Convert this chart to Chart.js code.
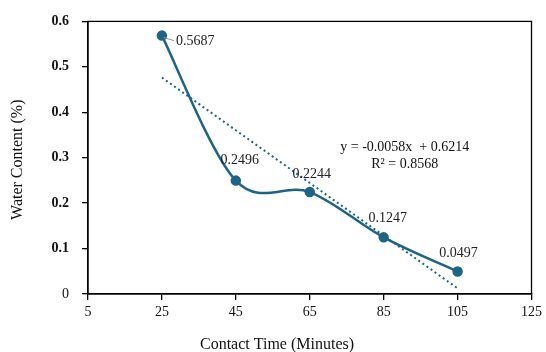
<!DOCTYPE html>
<html><head><meta charset="utf-8">
<script src="https://cdn.jsdelivr.net/npm/chart.js@4"></script>
<style>html,body{margin:0;padding:0;background:#fff}#wrap{width:546px;height:352px}</style>
</head><body><div id="wrap"><canvas id="c" width="546" height="352"></canvas></div>
<script>
const contactTime = [25, 45, 65, 85, 105];
const waterContent = [0.5687, 0.2496, 0.2244, 0.1247, 0.0497];
const trendTime = [25, 105];
const trendValues = [0.4764, 0.0124];
const xTicks = [5, 25, 45, 65, 85, 105, 125];
const yTicks = [0, 0.1, 0.2, 0.3, 0.4, 0.5, 0.6];
const yTickLabels = ['0', '0.1', '0.2', '0.3', '0.4', '0.5', '0.6'];
const pointLabels = ['0.5687', '0.2496', '0.2244', '0.1247', '0.0497'];
const equationLines = ['y = -0.0058x  + 0.6214', 'R\u00B2 = 0.8568'];
const xTitle = 'Contact Time (Minutes)';
const yTitle = 'Water Content (%)';

const LINE = '#1F6487';
const FONT = "'Liberation Serif', 'Times New Roman', serif";
// label offsets relative to the point (dx, dy, align)
const labelOffsets = [[14, 6, 'left'], [4, -20, 'center'], [2, -18, 'center'], [4, -19, 'center'], [1, -18, 'center']];

// Excel-like smoothing: Catmull-Rom style control points (1/6 of neighbour span)
const smooth = {
  id: 'smooth',
  beforeDatasetDraw(chart, args) {
    if (args.index !== 0) return;
    const meta = chart.getDatasetMeta(0);
    const line = meta.dataset;
    line.updateControlPoints(chart.chartArea, 'x');
    const pts = meta.data, n = pts.length;
    for (let i = 0; i < n; i++) {
      const p = pts[i], prev = pts[Math.max(i - 1, 0)], next = pts[Math.min(i + 1, n - 1)];
      const dx = (next.x - prev.x) / 6, dy = (next.y - prev.y) / 6;
      p.cp1x = p.x - dx; p.cp1y = p.y - dy;
      p.cp2x = p.x + dx; p.cp2y = p.y + dy;
    }
    line._path = undefined;
  }
};

const deco = {
  id: 'deco',
  afterDatasetsDraw(chart) {
    const ctx = chart.ctx, a = chart.chartArea;
    ctx.save();
    ctx.strokeStyle = '#000';
    ctx.lineWidth = 1.3;
    ctx.strokeRect(a.left, a.top, a.right - a.left, a.bottom - a.top);
    const meta = chart.getDatasetMeta(0);
    ctx.font = '14px ' + FONT;
    ctx.fillStyle = '#222';
    ctx.textBaseline = 'middle';
    meta.data.forEach((p, i) => {
      const o = labelOffsets[i];
      ctx.textAlign = o[2];
      ctx.fillText(pointLabels[i], p.x + o[0], p.y + o[1]);
    });
    // leader line for first label
    const p0 = meta.data[0];
    ctx.strokeStyle = '#999';
    ctx.lineWidth = 1;
    ctx.beginPath();
    ctx.moveTo(p0.x + 2, p0.y + 2);
    ctx.lineTo(p0.x + 12, p0.y + 5);
    ctx.stroke();
    // equation
    const xs = chart.scales.x, ys = chart.scales.y;
    const ex = xs.getPixelForValue(90.7), ey = ys.getPixelForValue(0.322);
    ctx.fillStyle = '#111';
    ctx.textAlign = 'center';
    ctx.fillText(equationLines[0], ex, ey);
    ctx.fillText(equationLines[1], ex, ey + 17);
    ctx.restore();
  },
  afterDraw(chart) {
    const ctx = chart.ctx, a = chart.chartArea;
    ctx.save();
    ctx.fillStyle = '#111';
    ctx.font = '16px ' + FONT;
    ctx.textAlign = 'center';
    ctx.textBaseline = 'middle';
    ctx.fillText(xTitle, 277, 345);
    ctx.translate(18, (a.top + a.bottom) / 2 + 2);
    ctx.rotate(-Math.PI / 2);
    ctx.fillText(yTitle, 0, 0);
    ctx.restore();
  }
};

new Chart(document.getElementById('c'), {
  type: 'line',
  data: {
    datasets: [
      {
        data: contactTime.map((x, i) => ({ x, y: waterContent[i] })),
        borderColor: LINE,
        backgroundColor: LINE,
        borderWidth: 2.5,
        pointRadius: 4,
        pointHoverRadius: 4,
        tension: 0.4,
        fill: false,
        order: 1
      },
      {
        data: trendTime.map((x, i) => ({ x, y: trendValues[i] })),
        borderColor: LINE,
        borderWidth: 2,
        borderDash: [2, 3],
        pointRadius: 0,
        tension: 0,
        fill: false,
        order: 2
      }
    ]
  },
  options: {
    responsive: false,
    animation: false,
    devicePixelRatio: 1,
    layout: { padding: { left: 0, top: 18, right: 14, bottom: 0 }, autoPadding: false },
    plugins: { legend: { display: false }, tooltip: { enabled: false } },
    scales: {
      x: {
        type: 'linear', min: 5, max: 125,
        afterBuildTicks: s => { s.ticks = xTicks.map(v => ({ value: v })); },
        afterFit: s => { s.height = 58; },
        grid: { drawOnChartArea: false, drawTicks: true, tickLength: 6, color: '#000', lineWidth: 1.3 },
        border: { color: '#000', width: 1.3 },
        ticks: { color: '#111', font: { family: FONT, size: 14 }, padding: 4, maxRotation: 0, callback: v => String(v) }
      },
      y: {
        type: 'linear', min: 0, max: 0.6,
        afterBuildTicks: s => { s.ticks = yTicks.map(v => ({ value: v })); },
        afterFit: s => { s.width = 88; },
        grid: { drawOnChartArea: false, drawTicks: true, tickLength: 6, color: '#000', lineWidth: 1.3 },
        border: { color: '#000', width: 1.3 },
        ticks: {
          color: '#111',
          font: c => ({ family: FONT, size: 14, weight: c.index === 0 ? 'normal' : 'bold' }),
          padding: 13,
          callback: (v, i) => yTickLabels[i]
        }
      }
    }
  },
  plugins: [smooth, deco]
});
</script></body></html>
